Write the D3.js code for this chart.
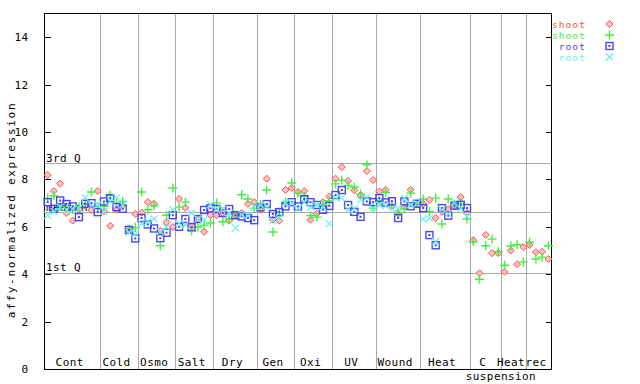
<!DOCTYPE html>
<html lang="en">
<head>
    <meta charset="UTF-8">
    <title>affy-normalized expression</title>
    <script src="https://d3js.org/d3.v7.min.js"></script>
    <style>
        body { margin: 0; padding: 0; background: #fff; }
        svg text { font-family: "DejaVu Sans Mono", monospace; font-size: 11px; }
    </style>
</head>
<body>
<div id="chart"></div>
<script>
    const width = 640, height = 384;

    // groups of samples (name, number of samples)
    const groupNames = ["Cont", "Cold", "Osmo", "Salt", "Dry", "Gen", "Oxi", "UV", "Wound", "Heat", "C", "Heat", "rec"];
    const groupSizes = [9, 6, 6, 6, 7, 6, 6, 7, 7, 8, 5, 4, 4];

    const seriesNames = ["shoot", "shoot", "root", "root"];
    const seriesColors = ["#ff5050", "#40f040", "#4848f0", "#60f0f0"];

    // values, one per sample
    const shootA = [8.19, 7.51, 7.82, 6.58, 6.26, 6.75, 6.89, 6.70, 7.51,
        6.65, 6.04, 6.72, 6.90, 5.86, 6.54,
        6.60, 7.04, 6.97, 5.83, 6.19, 5.99,
        7.18, 6.80, 6.02, 6.33, 5.79, 6.49,
        6.49, 6.58, 6.26, 6.49, 6.58, 6.97, 7.04,
        6.72, 8.03, 6.30, 6.26, 7.55, 7.64,
        7.47, 7.51, 6.30, 6.55, 7.04, 7.28,
        8.03, 8.52, 7.93, 7.54, 7.34, 8.35, 7.97,
        7.49, 7.56, 6.85, 6.55, 6.83, 7.56, 6.97,
        6.97, 7.14, 6.37, 6.63, 6.75, 6.89, 7.25, 6.58,
        5.44, 4.04, 5.66, 4.89, 4.89,
        4.10, 5.00, 4.42, 5.14,
        5.23, 4.93, 4.95, 4.64];
    const shootB = [7.20, 7.31, 6.86, 6.83, 6.72, 6.83, 6.95, 7.47, 6.85,
        6.86, 7.33, 7.00, 7.07, 5.90, 5.97,
        7.47, 6.72, 6.89, 5.20, 6.49, 7.64,
        6.83, 7.04, 5.82, 5.99, 6.07, 6.16,
        7.00, 6.21, 6.33, 6.49, 7.35, 7.17, 6.79,
        6.93, 7.55, 5.78, 6.62, 7.04, 7.85,
        7.42, 7.28, 6.47, 6.41, 6.93, 7.10,
        7.81, 7.97, 7.75, 7.68, 7.38, 8.62, 6.79,
        7.10, 7.45, 6.93, 6.60, 6.75, 7.42, 6.97,
        7.17, 6.65, 7.21, 6.12, 7.17, 6.95, 7.00, 6.33,
        5.37, 3.79, 5.20, 5.48, 4.95,
        4.38, 5.19, 5.24, 4.52,
        5.35, 4.64, 4.72, 5.20];
    const rootA = [7.04, 6.76, 7.11, 6.96, 6.86, 6.41, 6.97, 7.00, 6.62,
        7.07, 7.21, 6.83, 6.76, 5.87, 5.51,
        6.37, 6.10, 5.93, 5.52, 5.75, 6.49,
        6.00, 6.33, 5.99, 6.33, 6.71, 6.78,
        6.75, 6.58, 6.75, 6.49, 6.44, 6.37, 6.28,
        6.82, 6.96, 6.54, 6.62, 6.86, 7.04,
        6.86, 7.17, 7.04, 6.92, 6.72, 6.88,
        7.34, 7.55, 6.92, 6.63, 6.42, 7.07, 7.04,
        7.21, 7.03, 7.08, 6.37, 7.07, 6.87, 6.97,
        6.79, 5.65, 5.22, 6.79, 6.47, 6.89, 6.93, 6.79];
    const rootB = [6.48, 6.65, 6.83, 6.72, 6.75, 6.79, 7.23, 6.90, 6.93,
        6.65, 7.07, 7.23, 6.93, 5.76, 5.70,
        6.13, 6.22, 6.33, 5.79, 5.99, 6.72,
        6.15, 6.07, 6.58, 6.33, 6.30, 6.93,
        6.72, 6.78, 6.58, 5.95, 6.51, 6.47, 6.83,
        6.93, 6.86, 6.26, 6.37, 7.00, 7.00,
        6.78, 7.03, 6.83, 6.92, 6.83, 6.13,
        7.24, 7.21, 6.72, 6.78, 7.14, 7.24, 6.79,
        6.93, 6.88, 6.75, 6.79, 7.21, 6.93, 7.00,
        6.32, 6.37, 5.38, 6.72, 6.55, 7.03, 6.75, 6.44];

    const quartiles = [
        { name: "3rd Q", value: 8.69 },
        { name: "median", value: 6.62 },
        { name: "1st Q", value: 4.07 }
    ];
    const yTicks = [0, 2, 4, 6, 8, 10, 12, 14];

    const nSamples = d3.sum(groupSizes);
    const plotLeft = 44, plotRight = 551, plotTop = 13.5, plotBottom = 369;

    const x = d3.scaleLinear().domain([-0.5, nSamples - 0.5]).range([plotLeft, plotRight]);
    const y = d3.scaleLinear().domain([0, 15]).range([plotBottom, plotTop]);

    const svg = d3.select("#chart").append("svg")
        .attr("width", width)
        .attr("height", height);

    // group boundaries
    let starts = [];
    let acc = 0;
    groupSizes.forEach(n => { starts.push(acc); acc += n; });

    const grid = svg.append("g").attr("shape-rendering", "crispEdges");
    grid.selectAll(".sep")
        .data(starts.slice(1))
        .enter().append("line")
        .attr("x1", d => Math.round(x(d - 0.5)) + 0.5)
        .attr("x2", d => Math.round(x(d - 0.5)) + 0.5)
        .attr("y1", plotTop)
        .attr("y2", plotBottom)
        .attr("stroke", "#a8a8a8");

    grid.selectAll(".q")
        .data(quartiles)
        .enter().append("line")
        .attr("x1", plotLeft)
        .attr("x2", plotRight)
        .attr("y1", d => Math.round(y(d.value)) + 0.5)
        .attr("y2", d => Math.round(y(d.value)) + 0.5)
        .attr("stroke", "#a8a8a8");

    svg.selectAll(".qlabel")
        .data(quartiles)
        .enter().append("text")
        .attr("x", plotLeft + 2)
        .attr("y", d => y(d.value) - 1.5)
        .attr("fill", "#000")
        .style("letter-spacing", "0.4px")
        .text(d => d.name);

    // frame
    svg.append("rect")
        .attr("x", plotLeft + 0.5)
        .attr("y", plotTop)
        .attr("width", plotRight - plotLeft)
        .attr("height", plotBottom - plotTop)
        .attr("fill", "none")
        .attr("stroke", "#000")
        .attr("shape-rendering", "crispEdges");

    // y ticks on both sides, pointing inwards
    const yAxisL = d3.axisLeft(y).tickValues(yTicks).tickSizeInner(-6).tickSizeOuter(0).tickPadding(16);
    const gL = svg.append("g").attr("transform", `translate(${plotLeft + 0.5},0)`).call(yAxisL);
    gL.select(".domain").remove();
    gL.selectAll("line").attr("stroke", "#000").attr("shape-rendering", "crispEdges");
    gL.selectAll("text")
        .attr("font-family", "DejaVu Sans Mono, monospace")
        .attr("font-size", 11)
        .style("letter-spacing", "0.4px")
        .attr("fill", "#000");

    const yAxisR = d3.axisRight(y).tickValues(yTicks).tickSizeInner(-6).tickSizeOuter(0).tickFormat("");
    const gR = svg.append("g").attr("transform", `translate(${plotRight + 0.5},0)`).call(yAxisR);
    gR.select(".domain").remove();
    gR.selectAll("line").attr("stroke", "#000").attr("shape-rendering", "crispEdges");

    svg.append("text")
        .attr("transform", "translate(15,210) rotate(-90)")
        .attr("text-anchor", "middle")
        .style("letter-spacing", "1.7px")
        .text("affy-normalized expression");

    // group labels
    svg.selectAll(".glabel")
        .data(groupNames)
        .enter().append("text")
        .attr("x", (d, i) => x(starts[i] + (groupSizes[i] - 1) / 2 - 0.4))
        .attr("y", 366)
        .attr("text-anchor", "middle")
        .style("letter-spacing", "0.4px")
        .text(d => d);

    svg.append("text")
        .attr("x", x(starts[10] + 4.5))
        .attr("y", 380)
        .attr("text-anchor", "middle")
        .style("letter-spacing", "0.4px")
        .text("suspension");

    // markers
    const markers = [
        (g, c) => {
            g.append("path").attr("d", "M0,-3.5L3.5,0L0,3.5L-3.5,0Z")
                .attr("fill", "#ffc0c0").attr("stroke", c).attr("stroke-width", 1);
        },
        (g, c) => {
            g.append("path").attr("d", "M-4.5,0H4.5M0,-4.5V4.5")
                .attr("stroke", c).attr("stroke-width", 1.4).attr("fill", "none");
        },
        (g, c) => {
            g.append("rect").attr("x", -3.5).attr("y", -3.5).attr("width", 7).attr("height", 7)
                .attr("fill", "none").attr("stroke", c).attr("stroke-width", 1.4);
            g.append("rect").attr("x", -1).attr("y", -1).attr("width", 2).attr("height", 2)
                .attr("fill", c);
        },
        (g, c) => {
            g.append("path").attr("d", "M-3.5,-3.5L3.5,3.5M-3.5,3.5L3.5,-3.5")
                .attr("stroke", c).attr("stroke-width", 1.1).attr("fill", "none");
        }
    ];

    const series = [shootA, shootB, rootA, rootB];
    series.forEach((vals, s) => {
        svg.append("g").selectAll("g")
            .data(vals)
            .enter().append("g")
            .attr("transform", (d, i) => `translate(${x(i) + 0.5},${y(d)})`)
            .each(function () { markers[s](d3.select(this), seriesColors[s]); });
    });

    // legend
    const legend = svg.append("g");
    seriesNames.forEach((name, s) => {
        const ly = 24 + s * 11;
        legend.append("text")
            .attr("x", 586)
            .attr("y", ly + 3.5)
            .attr("text-anchor", "end")
            .attr("fill", seriesColors[s])
            .style("font-size", "9.5px")
            .style("letter-spacing", "1.1px")
            .text(name);
        const g = legend.append("g").attr("transform", `translate(609.5,${ly})`);
        markers[s](g, seriesColors[s]);
    });
</script>
</body>
</html>
